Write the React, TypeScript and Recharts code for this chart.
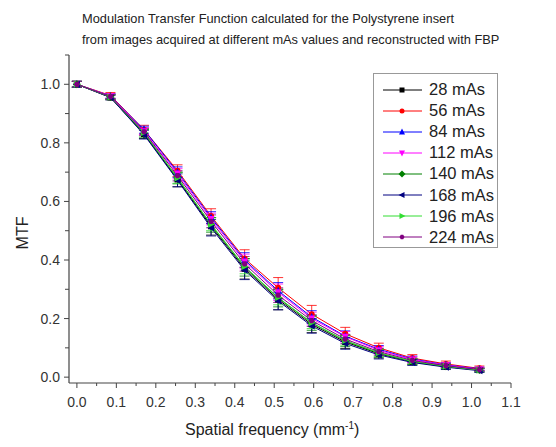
import React from "react";
import { LineChart, Line, XAxis, YAxis, ErrorBar } from "recharts";

// spatial frequency (mm^-1)
const freq = [0, 0.085, 0.17, 0.255, 0.34, 0.425, 0.51, 0.595, 0.68, 0.765, 0.85, 0.935, 1.02];

// MTF per mAs setting
const mtf28 = [1.0, 0.955, 0.83, 0.675, 0.515, 0.37, 0.265, 0.18, 0.12, 0.08, 0.052, 0.036, 0.024];
const mtf56 = [1.0, 0.962, 0.845, 0.705, 0.55, 0.405, 0.305, 0.215, 0.148, 0.1, 0.065, 0.045, 0.03];
const mtf84 = [1.0, 0.96, 0.845, 0.7, 0.545, 0.4, 0.295, 0.205, 0.14, 0.095, 0.062, 0.042, 0.028];
const mtf112 = [1.0, 0.96, 0.84, 0.695, 0.54, 0.395, 0.29, 0.2, 0.138, 0.092, 0.06, 0.041, 0.027];
const mtf140 = [1.0, 0.957, 0.832, 0.68, 0.52, 0.375, 0.27, 0.185, 0.124, 0.082, 0.053, 0.037, 0.024];
const mtf168 = [1.0, 0.955, 0.828, 0.672, 0.51, 0.365, 0.26, 0.175, 0.115, 0.076, 0.05, 0.034, 0.022];
const mtf196 = [1.0, 0.957, 0.835, 0.68, 0.522, 0.378, 0.272, 0.186, 0.125, 0.083, 0.054, 0.037, 0.024];
const mtf224 = [1.0, 0.958, 0.838, 0.688, 0.532, 0.387, 0.28, 0.193, 0.13, 0.087, 0.057, 0.039, 0.026];

// standard deviations (error bars)
const err28 = [0.01, 0.008, 0.015, 0.025, 0.03, 0.035, 0.035, 0.028, 0.022, 0.015, 0.01, 0.008, 0.006];
const err56 = [0.01, 0.01, 0.015, 0.02, 0.025, 0.03, 0.035, 0.03, 0.022, 0.016, 0.012, 0.01, 0.008];
const err84 = [0.01, 0.008, 0.012, 0.018, 0.02, 0.025, 0.028, 0.022, 0.018, 0.013, 0.01, 0.008, 0.006];
const err112 = [0.01, 0.008, 0.012, 0.018, 0.02, 0.025, 0.028, 0.022, 0.018, 0.013, 0.01, 0.008, 0.006];
const err140 = [0.01, 0.008, 0.015, 0.02, 0.025, 0.03, 0.03, 0.025, 0.02, 0.014, 0.01, 0.008, 0.006];
const err168 = [0.01, 0.008, 0.015, 0.022, 0.028, 0.032, 0.03, 0.025, 0.02, 0.014, 0.01, 0.008, 0.006];
const err196 = [0.01, 0.008, 0.012, 0.018, 0.022, 0.025, 0.025, 0.02, 0.016, 0.012, 0.009, 0.007, 0.005];
const err224 = [0.01, 0.008, 0.012, 0.018, 0.022, 0.025, 0.025, 0.02, 0.016, 0.012, 0.009, 0.007, 0.005];

const seriesNames = ["28 mAs", "56 mAs", "84 mAs", "112 mAs", "140 mAs", "168 mAs", "196 mAs", "224 mAs"];
const seriesColors = ["#000000", "#ff0000", "#0000ff", "#ff00ff", "#008000", "#000080", "#33dd33", "#800080"];
const seriesShapes = ["square", "circle", "triUp", "triDown", "diamond", "triLeft", "triRight", "hexagon"];

const xTicks = [0, 0.05, 0.1, 0.15, 0.2, 0.25, 0.3, 0.35, 0.4, 0.45, 0.5, 0.55, 0.6, 0.65, 0.7, 0.75, 0.8, 0.85, 0.9, 0.95, 1.0, 1.05, 1.1];
const yTicks = [0, 0.1, 0.2, 0.3, 0.4, 0.5, 0.6, 0.7, 0.8, 0.9, 1.0, 1.1];

const allValues = [mtf28, mtf56, mtf84, mtf112, mtf140, mtf168, mtf196, mtf224];
const allErrors = [err28, err56, err84, err112, err140, err168, err196, err224];

const data = freq.map((f, i) => {
  const row: Record<string, number> = { f };
  allValues.forEach((vals, s) => {
    row[`s${s}`] = vals[i];
    row[`e${s}`] = allErrors[s][i];
  });
  return row;
});

const FONT = "'Liberation Sans', Arial, sans-serif";
const AXIS = "#444";

const isMajor = (v: number) => Math.abs(v * 10 - Math.round(v * 10)) < 1e-6 && Math.round(v * 10) % 2 === 0;
const isTenth = (v: number) => Math.abs(v * 10 - Math.round(v * 10)) < 1e-6;

function Marker({ cx, cy, shape, color, r = 3 }: { cx: number; cy: number; shape: string; color: string; r?: number }) {
  const pts = (arr: number[][]) => arr.map(([x, y]) => `${cx + x},${cy + y}`).join(" ");
  switch (shape) {
    case "square":
      return <rect x={cx - r} y={cy - r} width={2 * r} height={2 * r} fill={color} />;
    case "circle":
      return <circle cx={cx} cy={cy} r={r} fill={color} />;
    case "triUp":
      return <polygon points={pts([[0, -r - 1], [r + 0.5, r], [-r - 0.5, r]])} fill={color} />;
    case "triDown":
      return <polygon points={pts([[0, r + 1], [r + 0.5, -r], [-r - 0.5, -r]])} fill={color} />;
    case "diamond":
      return <polygon points={pts([[0, -r - 1], [r + 1, 0], [0, r + 1], [-r - 1, 0]])} fill={color} />;
    case "triLeft":
      return <polygon points={pts([[-r - 1, 0], [r, -r - 0.5], [r, r + 0.5]])} fill={color} />;
    case "triRight":
      return <polygon points={pts([[r + 1, 0], [-r, -r - 0.5], [-r, r + 0.5]])} fill={color} />;
    default: {
      const hex = [0, 1, 2, 3, 4, 5].map((k) => [r * Math.cos((Math.PI / 3) * k), r * Math.sin((Math.PI / 3) * k)]);
      return <polygon points={pts(hex)} fill={color} />;
    }
  }
}

const XTick = (props: any) => {
  const { x, y, payload } = props;
  const v = payload.value as number;
  const major = isTenth(v);
  return (
    <g>
      <line x1={x} x2={x} y1={y} y2={y + (major ? 5 : 3)} stroke={AXIS} strokeWidth={1} />
      {major && (
        <text x={x} y={y + 24} textAnchor="middle" fontSize={14} fontFamily={FONT} fill="#333">
          {v.toFixed(1)}
        </text>
      )}
    </g>
  );
};

const YTick = (props: any) => {
  const { x, y, payload } = props;
  const v = payload.value as number;
  const major = isMajor(v);
  return (
    <g>
      <line x1={x} x2={x - (major ? 5 : 4)} y1={y} y2={y} stroke={AXIS} strokeWidth={1} />
      {major && v <= 1.0 && (
        <text x={x - 9} y={y + 5} textAnchor="end" fontSize={14} fontFamily={FONT} fill="#333">
          {v.toFixed(1)}
        </text>
      )}
    </g>
  );
};

const LegendBox = () => (
  <div
    style={{
      position: "absolute",
      left: 373,
      top: 73,
      width: 125,
      height: 175,
      boxSizing: "border-box",
      border: "1px solid #999",
      padding: "5px 0 0 8px",
      background: "#fff",
      fontFamily: FONT,
      fontSize: 16.5,
      color: "#222",
      whiteSpace: "nowrap",
    }}
  >
    {seriesNames.map((name, s) => (
      <div key={name} style={{ display: "flex", alignItems: "center", height: 21.1 }}>
        <svg width={44} height={12} style={{ marginRight: 3 }}>
          <line x1={1} x2={40} y1={6} y2={6} stroke={seriesColors[s]} strokeWidth={1} />
          <Marker cx={20} cy={6} shape={seriesShapes[s]} color={seriesColors[s]} r={2.5} />
        </svg>
        <span>{name}</span>
      </div>
    ))}
  </div>
);

export default function App() {
  return (
    <div style={{ position: "absolute", left: 0, top: 0, width: 556, height: 447, background: "#fff", fontFamily: FONT }}>
      <div style={{ position: "absolute", left: 82, top: 8, fontSize: 12.8, color: "#222", lineHeight: "21px", whiteSpace: "nowrap" }}>
        Modulation Transfer Function calculated for the Polystyrene insert
        <br />
        from images acquired at different mAs values and reconstructed with FBP
      </div>
      <LineChart width={556} height={447} data={data} margin={{ top: 55, right: 45, bottom: 0, left: 0 }}>
        <XAxis
          dataKey="f"
          type="number"
          domain={[-0.02, 1.1]}
          ticks={xTicks}
          interval={0}
          height={64}
          tickSize={0}
          tickMargin={0}
          tick={<XTick />}
          axisLine={{ stroke: AXIS, strokeWidth: 1.2 }}
          tickLine={false}
          allowDataOverflow
        />
        <YAxis
          type="number"
          domain={[-0.02, 1.1]}
          ticks={yTicks}
          interval={0}
          width={69}
          tickSize={0}
          tickMargin={0}
          tick={<YTick />}
          axisLine={{ stroke: AXIS, strokeWidth: 1.2 }}
          tickLine={false}
          allowDataOverflow
        />
        {seriesNames.map((name, s) => (
          <Line
            key={name}
            dataKey={`s${s}`}
            name={name}
            stroke={seriesColors[s]}
            strokeWidth={1}
            isAnimationActive={false}
            dot={(p: any) => (
              <Marker key={`${s}-${p.index}`} cx={p.cx} cy={p.cy} shape={seriesShapes[s]} color={seriesColors[s]} r={3} />
            )}
            activeDot={false}
          >
            <ErrorBar dataKey={`e${s}`} width={5} stroke={seriesColors[s]} strokeWidth={0.8} direction="y" />
          </Line>
        ))}
      </LineChart>
      <LegendBox />
      <div
        style={{
          position: "absolute",
          left: 3,
          top: 233,
          transform: "translate(0, -50%) rotate(-90deg)",
          fontSize: 16,
          color: "#222",
          width: 40,
          textAlign: "center",
        }}
      >
        MTF
      </div>
      <div style={{ position: "absolute", left: 185, top: 420, fontSize: 16, color: "#222" }}>
        Spatial frequency (mm<sup style={{ fontSize: 10 }}>-1</sup>)
      </div>
    </div>
  );
}
